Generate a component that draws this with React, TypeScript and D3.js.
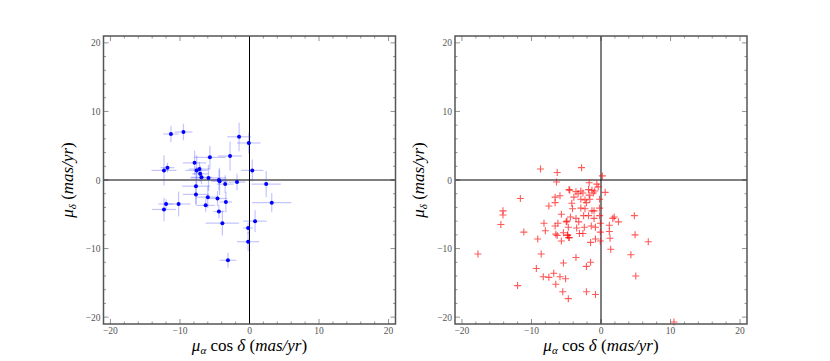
import React from 'react'
import * as d3 from 'd3'

// left panel: proper motions with errors (mas/yr)
const pmRaL = [-11.3, -9.5, -1.5, -0.1, -2.8, -5.7, -7.9, -12.3, -11.8, -7.6, -7.2, -7.1, -6.9, -5.9, -4.4, -4.3, 0.4, -1.8, -3.5, 2.4, -7.7, -7.7, -6.0, -4.6, -3.4, -12.0, -10.2, -12.3, -6.3, 3.2, -4.4, -3.9, 0.8, -0.2, -0.2, -3.1]
const pmDecL = [6.7, 7.0, 6.3, 5.4, 3.5, 3.3, 2.5, 1.4, 1.8, 1.4, 1.6, 0.9, 0.4, 0.3, 0.0, -0.2, 1.4, -0.3, -0.6, -0.6, -0.9, -2.1, -2.5, -2.7, -3.2, -3.5, -3.5, -4.3, -3.7, -3.3, -4.6, -6.3, -6.0, -7.0, -9.0, -11.7]
const errRaL = [1.1, 1.3, 1.7, 1.7, 1.7, 2.3, 1.7, 1.8, 1.0, 1.6, 1.5, 1.2, 1.5, 2.6, 1.0, 1.2, 1.6, 1.2, 1.2, 2.1, 2.0, 1.9, 1.6, 1.4, 0.9, 1.1, 1.7, 1.7, 1.3, 2.8, 0.8, 2.4, 1.7, 0.7, 1.6, 1.2]
const errDecL = [1.2, 1.2, 2.1, 1.5, 2.1, 1.7, 1.8, 2.2, 0.7, 2.2, 1.0, 1.2, 1.0, 1.9, 1.5, 2.0, 1.6, 1.2, 1.3, 1.9, 2.8, 1.4, 1.6, 1.1, 1.5, 0.7, 1.8, 1.7, 1.0, 1.4, 1.0, 1.8, 1.6, 0.8, 1.4, 1.1]

// right panel: proper motions (mas/yr)
const pmRaR = [-8.7, -6.3, -6.4, -4.6, -11.6, -6.6, -5.9, -6.6, -7.5, -14.1, -14.1, -5.7, -14.4, -8.2, -6.2, -6.6, -5.0, -8.0, -11.1, -6.5, -6.3, -5.4, -4.8, -4.6, -5.7, -9.1, -8.6, -17.7, -5.4, -9.3, -8.3, -7.5, -6.8, -5.9, -5.1, -6.5, -12.0, -5.5, -4.7,
  -2.8, 0.2, -1.7, -0.6, -0.4, -4.5, -3.6, -2.9, -1.8, -1.3, -0.9, 0.6, -3.3, -2.6, -1.7, -1.1, -3.9, -2.9, -2.3, -1.6, -0.2, -4.2, -2.1, -4.1, -2.9, -2.3, -1.3, -1.0, -0.2, 4.8, -4.4, -3.6, -2.5, -1.8, -1.0, -0.2, -4.9, -3.2, 1.7, 1.9, 2.5, -0.1, -4.7, -3.5, -2.4, -1.4, -0.8, 1.2, -0.1, 1.2, -4.8, -4.6, -3.1, -2.6, -0.8, 1.3, -0.1, 4.9, 6.8, -1.5, 1.4, 4.3, -3.6, -1.5, -2.1, 5.0, -2.1, -0.8, 10.5]
const pmDecR = [1.6, 1.1, -0.3, -1.4, -2.7, -2.5, -2.3, -3.3, -3.8, -4.5, -5.1, -5.0, -6.5, -6.3, -6.3, -6.7, -6.1, -7.4, -7.6, -7.9, -8.1, -7.7, -8.1, -8.4, -8.9, -8.6, -10.8, -10.8, -12.1, -12.9, -14.1, -14.2, -13.6, -14.1, -14.4, -15.2, -15.4, -16.3, -17.3,
  1.8, 0.6, -0.4, -0.6, -1.0, -1.5, -1.7, -1.6, -1.4, -1.5, -1.6, -1.8, -2.0, -1.9, -2.2, -1.9, -2.5, -2.8, -2.9, -2.8, -2.8, -3.4, -3.3, -4.2, -4.1, -4.2, -4.5, -4.5, -4.1, -5.2, -5.4, -5.6, -5.2, -5.2, -5.6, -5.2, -6.0, -6.1, -5.6, -5.4, -6.1, -6.3, -6.9, -7.0, -6.9, -6.7, -6.9, -6.6, -7.6, -7.5, -8.0, -8.4, -7.8, -7.8, -8.6, -8.5, -8.9, -8.0, -9.0, -9.1, -10.1, -10.9, -11.3, -12.0, -12.6, -14.0, -16.3, -16.7, -20.7]

const majorTicks = [-20, -10, 0, 10, 20]
const domain: [number, number] = [-21, 21]

const fmt = (v: number) => (v < 0 ? '\u2212' + Math.abs(v) : String(v))

function Panel({ left, kind }: { left: number; kind: 'err' | 'plus' }) {
  const w = 292
  const top = 36
  const h = 288
  const x = d3.scaleLinear().domain(domain).range([left, left + w])
  const y = d3.scaleLinear().domain(domain).range([top + h, top])
  const minor = d3.range(-20, 21, 2)

  const ticks: JSX.Element[] = []
  minor.forEach((v, i) => {
    const len = v % 10 === 0 ? 5 : 2.5
    ticks.push(
      <g key={'t' + i} stroke="#777" strokeWidth={0.8}>
        <line x1={x(v)} x2={x(v)} y1={top + h} y2={top + h - len} />
        <line x1={x(v)} x2={x(v)} y1={top} y2={top + len} />
        <line y1={y(v)} y2={y(v)} x1={left} x2={left + len} />
        <line y1={y(v)} y2={y(v)} x1={left + w} x2={left + w - len} />
      </g>
    )
  })

  const cx = x(0)
  return (
    <g>
      {ticks}
      <line x1={left} x2={left + w} y1={y(0)} y2={y(0)} stroke="#000" strokeWidth={1} />
      <line x1={x(0)} x2={x(0)} y1={top} y2={top + h} stroke="#000" strokeWidth={1} />
      {kind === 'err' &&
        pmRaL.map((ra, i) => (
          <g key={'e' + i} stroke="#3a3aff" strokeOpacity={0.3} strokeWidth={1.2}>
            <line x1={x(ra - errRaL[i])} x2={x(ra + errRaL[i])} y1={y(pmDecL[i])} y2={y(pmDecL[i])} />
            <line x1={x(ra)} x2={x(ra)} y1={y(pmDecL[i] - errDecL[i])} y2={y(pmDecL[i] + errDecL[i])} />
          </g>
        ))}
      {kind === 'err' &&
        pmRaL.map((ra, i) => <circle key={'p' + i} cx={x(ra)} cy={y(pmDecL[i])} r={2} fill="#0000ff" />)}
      {kind === 'plus' &&
        pmRaR.map((ra, i) => {
          const px = x(ra)
          const py = y(pmDecR[i])
          return (
            <path key={'r' + i} d={`M${px - 3.5},${py}H${px + 3.5}M${px},${py - 3.5}V${py + 3.5}`}
              stroke="#ff0000" strokeOpacity={0.65} strokeWidth={1.1} fill="none" />
          )
        })}
      <rect x={left} y={top} width={w} height={h} fill="none" stroke="#555" strokeWidth={1.5} />
      <g fontFamily="'Liberation Serif', serif" fontSize={9.5} fill="#555">
        {majorTicks.map(v => (
          <text key={'xl' + v} x={x(v)} y={top + h + 10} textAnchor="middle">{fmt(v)}</text>
        ))}
        {majorTicks.map(v => (
          <text key={'yl' + v} x={left - 3} y={y(v) + 3.5} textAnchor="end">{fmt(v)}</text>
        ))}
      </g>
      <text x={cx} y={351} textAnchor="middle" fontFamily="'Liberation Serif', serif" fontSize={17} fill="#000">
        <tspan fontStyle="italic">μ</tspan>
        <tspan fontStyle="italic" fontSize={11} dy={3}>α</tspan>
        <tspan dy={-3}> cos </tspan>
        <tspan fontStyle="italic">δ</tspan>
        <tspan> (</tspan>
        <tspan fontStyle="italic">mas/yr</tspan>
        <tspan>)</tspan>
      </text>
      <text transform={`translate(${left - 31},${y(0)}) rotate(-90)`} textAnchor="middle"
        fontFamily="'Liberation Serif', serif" fontSize={17} fill="#000">
        <tspan fontStyle="italic">μ</tspan>
        <tspan fontStyle="italic" fontSize={11} dy={3}>δ</tspan>
        <tspan dy={-3}> (</tspan>
        <tspan fontStyle="italic">mas/yr</tspan>
        <tspan>)</tspan>
      </text>
    </g>
  )
}

export default function App() {
  return (
    <svg width={830} height={361} style={{ position: 'absolute', left: 0, top: 0, background: '#fff' }}>
      <Panel left={103.5} kind="err" />
      <Panel left={455} kind="plus" />
    </svg>
  )
}
